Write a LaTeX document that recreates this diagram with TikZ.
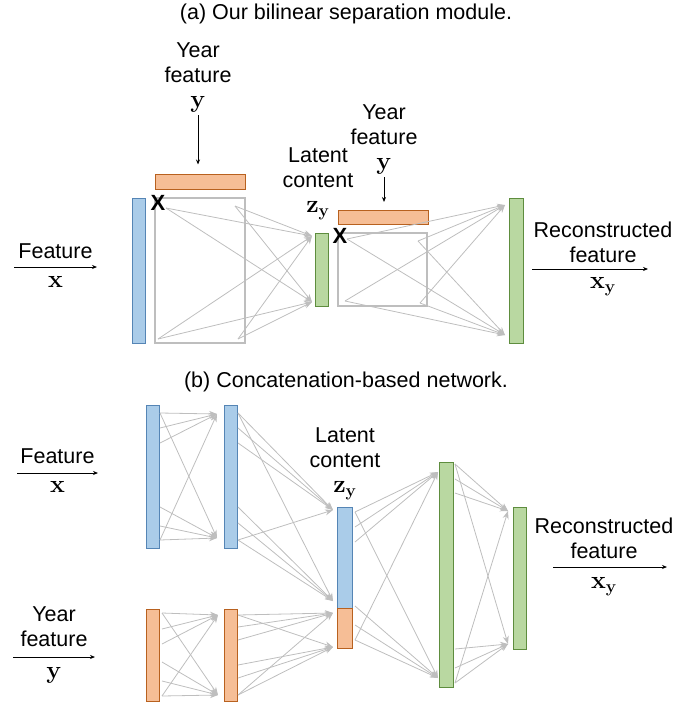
\documentclass[tikz,border=0pt]{standalone}
\usepackage[no-math]{fontspec}
\setmainfont{Liberation Sans}
\usetikzlibrary{arrows.meta}

\definecolor{barblue}{HTML}{AACCE9}
\definecolor{lineblue}{HTML}{5585B5}
\definecolor{barorange}{HTML}{F6BE96}
\definecolor{lineorange}{HTML}{B8611F}
\definecolor{bargreen}{HTML}{B9D8A1}
\definecolor{linegreen}{HTML}{5E8D3E}
\definecolor{lgray}{HTML}{BEBEBE}

\newcommand{\vecm}[1]{{\fontsize{27}{25}\selectfont$\mathbf{#1}$}}

\tikzset{
  bar/.style={draw, line width=1pt, inner sep=0pt, outer sep=0pt},
  bluebar/.style={bar, draw=lineblue, fill=barblue},
  orangebar/.style={bar, draw=lineorange, fill=barorange},
  greenbar/.style={bar, draw=linegreen, fill=bargreen},
  graybox/.style={bar, draw=lgray, line width=1.2pt},
  gl/.style={draw=lgray, line width=0.8pt, -{Stealth[length=\al, width=\aw]}},
  blk/.style={black, line width=0.8pt, -{Stealth[length=5pt, width=4pt]}},
  lab/.style={font=\fontsize{21.5}{25}\selectfont, align=center, inner sep=0pt},
  cross/.style={font=\fontsize{22}{22}\selectfont\bfseries, inner sep=0pt},
}

\begin{document}
\begin{tikzpicture}[x=1pt,y=-1pt]
\def\al{8pt}
\def\aw{6pt}
\useasboundingbox (0,0) rectangle (700,704);

% (a) bilinear module
\node[lab] (capa) at (346,14) {(a) Our bilinear separation module.};

\node[bluebar, minimum width=13pt, minimum height=145pt, name=xa] at (138.5,270.5) {};
\node[orangebar, minimum width=90pt, minimum height=15pt, name=ya1] at (200,182) {};
\node[graybox, minimum width=90pt, minimum height=145pt, name=boxa1] at (200,270.5) {};
\node[cross, name=xx1] at (158,203) {X};
\node[greenbar, minimum width=13pt, minimum height=73pt, name=za] at (321.5,269.5) {};
\node[orangebar, minimum width=90pt, minimum height=14pt, name=ya2] at (383,217) {};
\node[graybox, minimum width=89pt, minimum height=73pt, name=boxa2] at (382.5,269.5) {};
\node[cross, name=xx2] at (340,236) {X};
\node[greenbar, minimum width=14pt, minimum height=145pt, name=xya] at (516,270.5) {};

\coordinate (p1) at (166,208);
\coordinate (p2) at (235,206);
\coordinate (p3) at (158,339);
\coordinate (p4) at (238,339);
\coordinate (q1) at (312,236);
\coordinate (q2) at (312,302);
\coordinate (r1) at (347,239);
\coordinate (r2) at (418,241);
\coordinate (r3) at (345,301);
\coordinate (r4) at (420,303);
\coordinate (u1) at (505,205);
\coordinate (u2) at (505,335);
\foreach \s in {p1,p2,p3,p4}
  \foreach \t in {q1,q2} \draw[gl] (\s) -- (\t);
\foreach \s in {r1,r2,r3,r4}
  \foreach \t in {u1,u2} \draw[gl] (\s) -- (\t);

\node[lab, anchor=north, name=yfa1] at (198,43) {Year\\feature\\\vecm{y}};
\draw[blk, shorten <=2pt, shorten >=10pt] (yfa1.south) -- (yfa1.south |- ya1.north);
\node[lab, anchor=north, name=yfa2] at (384,105) {Year\\feature\\\vecm{y}};
\draw[blk, shorten <=2pt, shorten >=8pt] (yfa2.south) -- (yfa2.south |- ya2.north);
\node[lab, anchor=north, name=lca] at (318,148) {Latent\\content\\\vecm{z_y}};

\coordinate (fa1) at (14,267);
\coordinate (fa2) at (97,267);
\draw[blk] (fa1) -- node[lab, above=8pt, name=fta] {Feature} node[lab, below=9pt, name=fxa] {\vecm{x}} (fa2);
\coordinate (ra1) at (532,269);
\coordinate (ra2) at (648,269);
\draw[blk] (ra1) -- node[lab, above=6pt, xshift=13pt, name=rta] {Reconstructed\\feature} node[lab, below=8pt, xshift=13pt, name=rxa] {\vecm{x_y}} (ra2);

% (b) concatenation network
\node[lab] (capb) at (346,382) {(b) Concatenation-based network.};

\node[bluebar, minimum width=13pt, minimum height=143pt, name=b1] at (152.5,476.5) {};
\node[bluebar, minimum width=13pt, minimum height=143pt, name=b2] at (230.5,476.5) {};
\node[orangebar, minimum width=13pt, minimum height=92pt, name=o1] at (152.5,655) {};
\node[orangebar, minimum width=13pt, minimum height=92pt, name=o2] at (230.5,655) {};
\node[bluebar, minimum width=15pt, minimum height=101pt, name=zb] at (344.5,557.5) {};
\node[orangebar, minimum width=15pt, minimum height=40pt, name=zo] at (344.5,628) {};
\node[greenbar, minimum width=14pt, minimum height=225pt, name=g1] at (446,574.5) {};
\node[greenbar, minimum width=13pt, minimum height=142pt, name=g2] at (519.5,578) {};

\foreach \n/\sx/\ya/\yb/\yc/\yd/\ye/\yf/\tx/\ta/\tb in {
    bb/160/413/428/443/507/526/540/217/414/538,
    oo/162/613/629/644/662/681/696/218/615/695,
    bz/238/413/428/443/507/523/540/333/510/601,
    oz/238/615/627/640/665/678/695/333/613/647,
    zg/355/512/527/542/606/625/640/438/472/678,
    gg/455/464/479/493/649/668/683/508/511/644} {
  \coordinate (\n t1) at (\tx,\ta);
  \coordinate (\n t2) at (\tx,\tb);
  \foreach \y [count=\i] in {\ya,\yb,\yc,\yd,\ye,\yf}
    \coordinate (\n s\i) at (\sx,\y);
  \foreach \i in {1,2,3} \draw[gl] (\n s\i) -- (\n t1);
  \foreach \i in {4,5,6} \draw[gl] (\n s\i) -- (\n t2);
  \draw[gl] (\n s1) -- (\n t2);
  \draw[gl] (\n s6) -- (\n t1);
}

\node[lab, anchor=north, name=lcb] at (345,428) {Latent\\content\\\vecm{z_y}};

\coordinate (fb1) at (17,473);
\coordinate (fb2) at (98,473);
\draw[blk] (fb1) -- node[lab, above=9pt, name=ftb] {Feature} node[lab, below=8pt, name=fxb] {\vecm{x}} (fb2);
\coordinate (yb1) at (13,657);
\coordinate (yb2) at (95,657);
\draw[blk] (yb1) -- node[lab, above=10pt, name=ytb] {Year\\feature} node[lab, below=10pt, name=yyb] {\vecm{y}} (yb2);
\coordinate (rb1) at (553,567);
\coordinate (rb2) at (667,567);
\draw[blk] (rb1) -- node[lab, above=8pt, xshift=-6pt, name=rtb] {Reconstructed\\feature} node[lab, below=10pt, xshift=-6pt, name=rxb] {\vecm{x_y}} (rb2);
\end{tikzpicture}
\end{document}
